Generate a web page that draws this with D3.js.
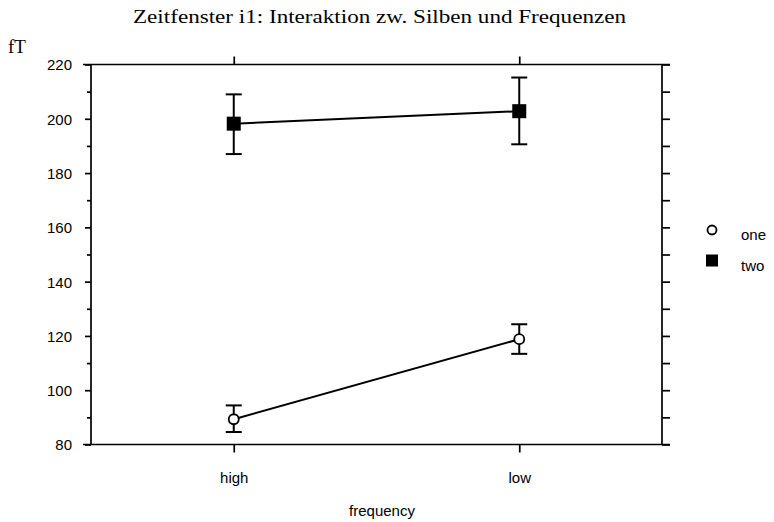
<!DOCTYPE html>
<html>
<head>
<meta charset="utf-8">
<script src="https://cdn.jsdelivr.net/npm/d3@7"></script>
<style>
  html, body { margin: 0; padding: 0; background: #fff; }
  svg { display: block; }
</style>
</head>
<body>
<svg id="chart" width="774" height="522"></svg>
<script>
// ---- data ----
const categories = ["high", "low"];
const seriesNames = ["one", "two"];
const oneMean  = [89.3, 118.8];
const oneLower = [84.6, 113.4];
const oneUpper = [94.4, 124.3];
const twoMean  = [198.2, 202.8];
const twoLower = [187.0, 190.6];
const twoUpper = [209.0, 215.2];
const yMajorTicks = [80, 100, 120, 140, 160, 180, 200, 220];
const yMinorTicks = [90, 110, 130, 150, 170, 190, 210];
const titleText = "Zeitfenster i1: Interaktion zw. Silben und Frequenzen";
const yLabel = "fT";
const xLabel = "frequency";

// ---- layout ----
const svg = d3.select("#chart");
const L = 91, R = 662, T = 64.5, B = 444.5;
const x = d3.scalePoint().domain(categories).range([L, R]).padding(0.5);
const y = d3.scaleLinear().domain([80, 220]).range([B, T]);
const sans = "'Liberation Sans', Arial, sans-serif";
const serif = "'Liberation Serif', 'Times New Roman', serif";
const fs = 15;

// title
svg.append("text")
  .attr("x", 379.5).attr("y", 23)
  .attr("text-anchor", "middle")
  .attr("font-family", serif).attr("font-size", 19)
  .attr("textLength", 493).attr("lengthAdjust", "spacingAndGlyphs")
  .text(titleText);

// y label
svg.append("text")
  .attr("x", 8).attr("y", 53)
  .attr("font-family", serif).attr("font-size", 19)
  .text(yLabel);

const g = svg.append("g");

// box lines
const boxStroke = 1.7;
g.append("line").attr("x1", L - 8).attr("x2", R + 8).attr("y1", T).attr("y2", T)
  .attr("stroke", "#000").attr("stroke-width", boxStroke);
g.append("line").attr("x1", L - 8).attr("x2", R + 8).attr("y1", B).attr("y2", B)
  .attr("stroke", "#000").attr("stroke-width", boxStroke);
g.append("line").attr("x1", L).attr("x2", L).attr("y1", T).attr("y2", B)
  .attr("stroke", "#000").attr("stroke-width", boxStroke);
g.append("line").attr("x1", R).attr("x2", R).attr("y1", T).attr("y2", B)
  .attr("stroke", "#000").attr("stroke-width", boxStroke);

function styleAxis(sel) {
  sel.select(".domain").remove();
  sel.selectAll(".tick line").attr("stroke", "#000").attr("stroke-width", boxStroke);
}

// left axis major
g.append("g").attr("transform", `translate(${L},0)`)
  .call(d3.axisLeft(y).tickValues(yMajorTicks).tickSize(6).tickPadding(13))
  .call(styleAxis)
  .call(s => s.selectAll(".tick text")
      .attr("font-family", sans).attr("font-size", fs).attr("fill", "#000")
      .attr("dy", "0.36em"));
// left axis minor
g.append("g").attr("transform", `translate(${L},0)`)
  .call(d3.axisLeft(y).tickValues(yMinorTicks).tickSize(4).tickFormat(""))
  .call(styleAxis);
// right axis (all ticks, no labels)
g.append("g").attr("transform", `translate(${R},0)`)
  .call(d3.axisRight(y).tickValues(yMajorTicks.concat(yMinorTicks)).tickSize(8).tickFormat(""))
  .call(styleAxis);
// top axis
g.append("g").attr("transform", `translate(0,${T})`)
  .call(d3.axisTop(x).tickSize(8).tickFormat(""))
  .call(styleAxis);
// bottom axis
g.append("g").attr("transform", `translate(0,${B})`)
  .call(d3.axisBottom(x).tickSize(8).tickPadding(20))
  .call(styleAxis)
  .call(s => s.selectAll(".tick text")
      .attr("font-family", sans).attr("font-size", fs).attr("fill", "#000"));

// x label
svg.append("text")
  .attr("x", 382).attr("y", 516)
  .attr("text-anchor", "middle")
  .attr("font-family", sans).attr("font-size", fs)
  .text(xLabel);

// series
const series = [
  { name: seriesNames[0], mean: oneMean, lo: oneLower, hi: oneUpper, shape: "circle" },
  { name: seriesNames[1], mean: twoMean, lo: twoLower, hi: twoUpper, shape: "square" }
];
const capHalf = 8;
series.forEach(s => {
  const pts = categories.map((c, i) => ({ c, m: s.mean[i], lo: s.lo[i], hi: s.hi[i] }));
  const sg = g.append("g");
  sg.append("path")
    .attr("d", d3.line().x(d => x(d.c)).y(d => y(d.m))(pts))
    .attr("fill", "none").attr("stroke", "#000").attr("stroke-width", 2);
  pts.forEach(d => {
    const cx = x(d.c);
    sg.append("line").attr("x1", cx).attr("x2", cx).attr("y1", y(d.lo)).attr("y2", y(d.hi))
      .attr("stroke", "#000").attr("stroke-width", 2);
    [d.lo, d.hi].forEach(v => {
      sg.append("line").attr("x1", cx - capHalf).attr("x2", cx + capHalf)
        .attr("y1", y(v)).attr("y2", y(v))
        .attr("stroke", "#000").attr("stroke-width", 2);
    });
  });
  pts.forEach(d => {
    const cx = x(d.c), cy = y(d.m);
    if (s.shape === "circle") {
      sg.append("circle").attr("cx", cx).attr("cy", cy).attr("r", 5)
        .attr("fill", "#fff").attr("stroke", "#000").attr("stroke-width", 1.8);
    } else {
      sg.append("rect").attr("x", cx - 7).attr("y", cy - 7).attr("width", 14).attr("height", 14)
        .attr("fill", "#000");
    }
  });
});

// legend
const legend = svg.append("g");
series.forEach((s, i) => {
  const ly = 230 + i * 30.5;
  if (s.shape === "circle") {
    legend.append("circle").attr("cx", 712).attr("cy", ly).attr("r", 4.5)
      .attr("fill", "#fff").attr("stroke", "#000").attr("stroke-width", 1.8);
  } else {
    legend.append("rect").attr("x", 712 - 6).attr("y", ly - 6).attr("width", 12).attr("height", 12)
      .attr("fill", "#000");
  }
  legend.append("text").attr("x", 741).attr("y", ly + 10)
    .attr("font-family", sans).attr("font-size", fs).text(s.name);
});
</script>
</body>
</html>
